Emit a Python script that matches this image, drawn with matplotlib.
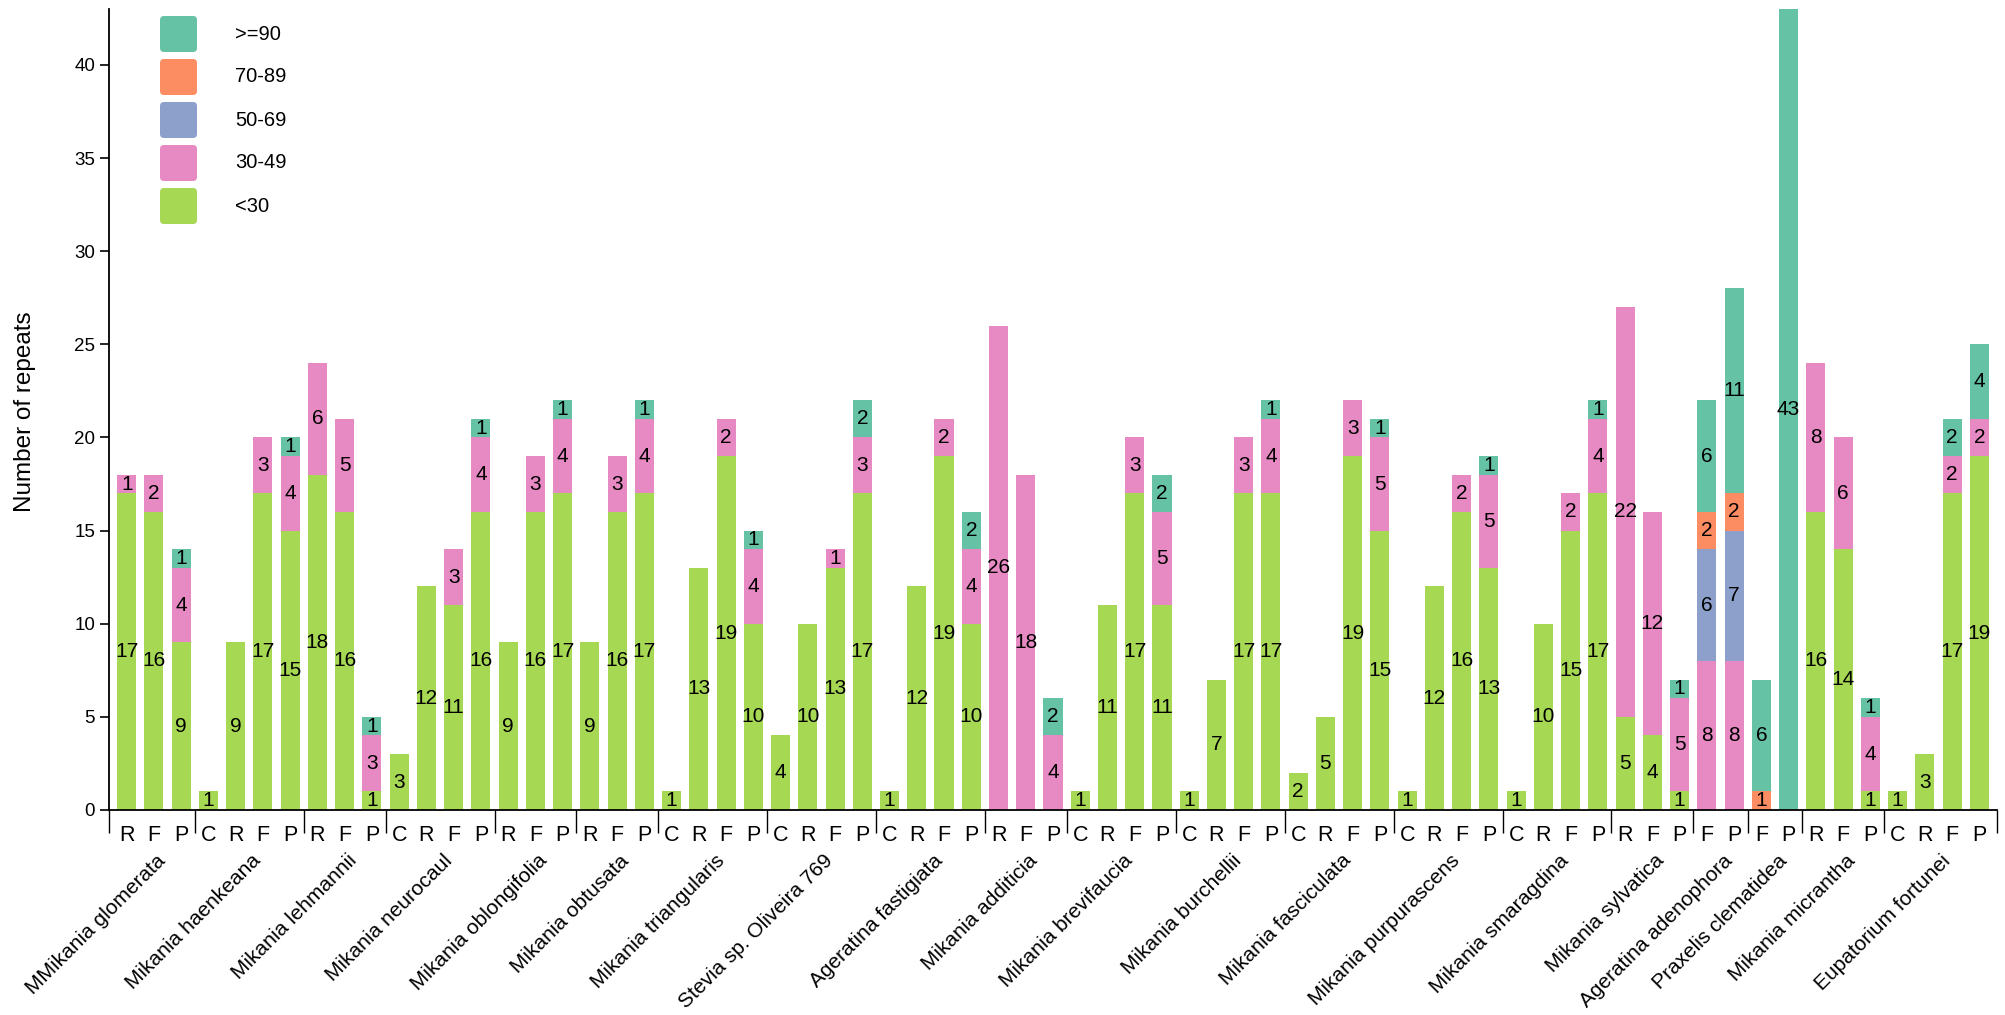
import numpy as np
import matplotlib
matplotlib.use('Agg')
import matplotlib.pyplot as plt
import matplotlib.transforms as mtransforms
from matplotlib.patches import FancyBboxPatch

plt.rcParams['font.family'] = ['Liberation Sans', 'DejaVu Sans']

# species and the tissues measured for each
groups = ['MMikania glomerata', 'Mikania haenkeana', 'Mikania lehmannii', 'Mikania neurocaul',
          'Mikania oblongifolia', 'Mikania obtusata', 'Mikania triangularis', 'Stevia sp. Oliveira 769',
          'Ageratina fastigiata', 'Mikania additicia', 'Mikania brevifaucia', 'Mikania burchellii',
          'Mikania fasciculata', 'Mikania purpurascens', 'Mikania smaragdina', 'Mikania sylvatica',
          'Ageratina adenophora', 'Praxelis clematidea', 'Mikania micrantha', 'Eupatorium fortunei']
tissues = ['RFP', 'CRFP', 'RFP', 'CRFP', 'RFP', 'RFP', 'CRFP', 'CRFP', 'CRFP', 'RFP',
           'CRFP', 'CRFP', 'CRFP', 'CRFP', 'CRFP', 'RFP', 'FP', 'FP', 'RFP', 'CRFP']

# number of repeats per length class, one value per bar (groups in order)
lt30 = [17, 16, 9,  1, 9, 17, 15,  18, 16, 1,  3, 12, 11, 16,  9, 16, 17,  9, 16, 17,
        1, 13, 19, 10,  4, 10, 13, 17,  1, 12, 19, 10,  0, 0, 0,  1, 11, 17, 11,
        1, 7, 17, 17,  2, 5, 19, 15,  1, 12, 16, 13,  1, 10, 15, 17,  5, 4, 1,
        0, 0,  0, 0,  16, 14, 1,  1, 3, 17, 19]
s30_49 = [1, 2, 4,  0, 0, 3, 4,  6, 5, 3,  0, 0, 3, 4,  0, 3, 4,  0, 3, 4,
          0, 0, 2, 4,  0, 0, 1, 3,  0, 0, 2, 4,  26, 18, 4,  0, 0, 3, 5,
          0, 0, 3, 4,  0, 0, 3, 5,  0, 0, 2, 5,  0, 0, 2, 4,  22, 12, 5,
          8, 8,  0, 0,  8, 6, 4,  0, 0, 2, 2]
s50_69 = [0, 0, 0,  0, 0, 0, 0,  0, 0, 0,  0, 0, 0, 0,  0, 0, 0,  0, 0, 0,
          0, 0, 0, 0,  0, 0, 0, 0,  0, 0, 0, 0,  0, 0, 0,  0, 0, 0, 0,
          0, 0, 0, 0,  0, 0, 0, 0,  0, 0, 0, 0,  0, 0, 0, 0,  0, 0, 0,
          6, 7,  0, 0,  0, 0, 0,  0, 0, 0, 0]
s70_89 = [0, 0, 0,  0, 0, 0, 0,  0, 0, 0,  0, 0, 0, 0,  0, 0, 0,  0, 0, 0,
          0, 0, 0, 0,  0, 0, 0, 0,  0, 0, 0, 0,  0, 0, 0,  0, 0, 0, 0,
          0, 0, 0, 0,  0, 0, 0, 0,  0, 0, 0, 0,  0, 0, 0, 0,  0, 0, 0,
          2, 2,  1, 0,  0, 0, 0,  0, 0, 0, 0]
ge90 = [0, 0, 1,  0, 0, 0, 1,  0, 0, 1,  0, 0, 0, 1,  0, 0, 1,  0, 0, 1,
        0, 0, 0, 1,  0, 0, 0, 2,  0, 0, 0, 2,  0, 0, 2,  0, 0, 0, 2,
        0, 0, 0, 1,  0, 0, 0, 1,  0, 0, 0, 1,  0, 0, 0, 1,  0, 0, 1,
        6, 11,  6, 43,  0, 0, 1,  0, 0, 2, 4]

series = [lt30, s30_49, s50_69, s70_89, ge90]
names = ['<30', '30-49', '50-69', '70-89', '>=90']
colors = ['#a6d854', '#e78ac3', '#8da0cb', '#fc8d62', '#66c2a5']

tissue_labels = [t for g in tissues for t in g]
x = np.arange(len(tissue_labels))

W, H = 2006, 1015
fig = plt.figure(figsize=(W / 100, H / 100), dpi=100)
ax = fig.add_axes([109 / W, 1 - 810 / H, (1997 - 109) / W, (810 - 9) / H])

# stacked bars with centered counts
bottom = np.zeros(len(x))
for vals, col in zip(series, colors):
    vals = np.array(vals, dtype=float)
    ax.bar(x, vals, 0.7, bottom=bottom, color=col, linewidth=0)
    for xi, b, v in zip(x, bottom, vals):
        if v > 0:
            ax.text(xi, b + v / 2, str(int(v)), ha='center', va='center', fontsize=15, color='black')
    bottom += vals

ax.set_xlim(-0.65, len(x) - 1 + 0.65)
ax.set_ylim(0, 43)
ax.set_yticks(range(0, 41, 5))
for s in ['top', 'right']:
    ax.spines[s].set_visible(False)
ax.spines['left'].set_linewidth(1.3)
ax.spines['bottom'].set_linewidth(1.3)
ax.tick_params(axis='y', length=6.5, width=1.2, pad=3.5, labelsize=13.5)
ax.set_xticks(x, tissue_labels)
ax.tick_params(axis='x', length=0, pad=10.5, labelsize=15.5)

# group brackets under the axis
trans = mtransforms.blended_transform_factory(ax.transData, ax.transAxes)
edges = [-0.65]
start = 0
for g in tissues:
    start += len(g)
    edges.append(start - 0.5)
edges[-1] = len(x) - 1 + 0.65
ax.vlines(edges, 0, -23 / 801, transform=trans, colors='black', linewidth=1.0, clip_on=False)

# species names, rotated
start = 0
for name, g in zip(groups, tissues):
    centre = start + (len(g) - 1) / 2
    ax.text(centre + 0.08, -41 / 801, name, transform=trans, rotation=45,
            rotation_mode='anchor', ha='right', va='top', fontsize=15)
    start += len(g)

fig.text(25 / W, 1 - 412 / H, 'Number of repeats', rotation=90, ha='center', va='center', fontsize=17.5)

# legend drawn as rounded squares
ident = mtransforms.IdentityTransform()
for i, (name, col) in enumerate(zip(names[::-1], colors[::-1])):
    top = 16 + 43 * i
    box = FancyBboxPatch((160, H - top - 36), 37, 36, boxstyle='round,pad=0,rounding_size=4',
                         facecolor=col, edgecolor='none', transform=ident)
    fig.add_artist(box)
    fig.text(235 / W, 1 - (top + 18) / H, name, ha='left', va='center', fontsize=14.5)

fig.savefig('out.png', dpi=100)
